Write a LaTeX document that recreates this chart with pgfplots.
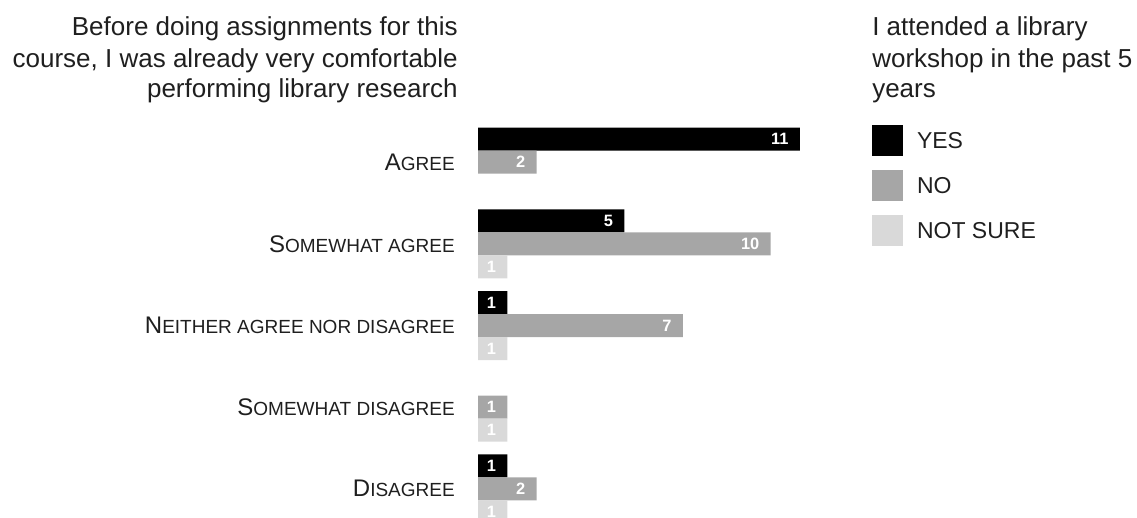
\documentclass[border=0pt]{standalone}
\usepackage{pgfplots}
\pgfplotsset{compat=1.18}
\usepackage{fontspec}
\setmainfont{Liberation Sans}
\definecolor{txt}{HTML}{1F1F1F}
\definecolor{cyes}{HTML}{000000}
\definecolor{cno}{HTML}{A6A6A6}
\definecolor{cns}{HTML}{D9D9D9}
\newcommand\fsc[2]{{\fontsize{18}{20}\selectfont #1}{\fontsize{14.25}{16}\selectfont #2}}
\newcommand\titlefont{\fontsize{19.5}{23.6}\selectfont}
\begin{document}
\begin{tikzpicture}
\path[use as bounding box] (0,0) rectangle (852.75pt,-387.75pt);
\clip (0,0) rectangle (852.75pt,-387.75pt);
% left title
\node[anchor=base east, inner sep=0pt, font=\titlefont, text=txt] at (343.5pt,-26.6pt) {Before doing assignments for this};
\node[anchor=base east, inner sep=0pt, font=\titlefont, text=txt] at (343.5pt,-50.6pt) {course, I was already very comfortable};
\node[anchor=base east, inner sep=0pt, font=\titlefont, text=txt] at (343.5pt,-73.5pt) {performing library research};
% legend title
\node[anchor=base west, inner sep=0pt, font=\titlefont, text=txt] at (654pt,-26.6pt) {I attended a library};
\node[anchor=base west, inner sep=0pt, font=\titlefont, text=txt] at (654pt,-50.6pt) {workshop in the past 5};
\node[anchor=base west, inner sep=0pt, font=\titlefont, text=txt] at (654pt,-73.5pt) {years};
\begin{axis}[
  at={(358.5pt,0pt)}, anchor=origin,
  x=21.94pt, y=0.75pt, y dir=reverse,
  xmin=0, xmax=12, ymin=0, ymax=517,
  axis x line=none, axis y line=left,
  y axis line style={draw=none}, ytick style={draw=none},
  major tick length=0pt,
  ytick={162.2,243.85,325.5,407.15,488.8},
  yticklabels={\fsc{A}{GREE},\fsc{S}{OMEWHAT AGREE},\fsc{N}{EITHER AGREE NOR DISAGREE},\fsc{S}{OMEWHAT DISAGREE},\fsc{D}{ISAGREE}},
  yticklabel style={anchor=east, inner sep=0pt, xshift=-17.25pt, text=txt},
  /pgf/number format/assume math mode=true,
  xbar, bar width=17.25pt, bar shift=0pt,
  nodes near coords,
  every node near coord/.append style={anchor=east, xshift=-8.25pt, inner sep=0pt, text=white, font=\bfseries\fontsize{12.3}{12}\selectfont},
  legend style={at={(axis cs:13.47,125)}, anchor=north west, draw=none, fill=none, inner sep=0pt, outer sep=0pt,
    row sep=10.5pt, font=\fontsize{17.25}{18}\selectfont, text=txt,
    nodes={inner sep=0pt, anchor=base west},
    /tikz/every odd column/.append style={column sep=10.5pt}},
  legend cell align=left,
  legend image code/.code={\fill[#1,draw=none] (0pt,-5.4pt) rectangle (23.25pt,17.85pt);},
]
\addplot[fill=cyes, draw=none] coordinates {(11,139.2) (5,220.85) (1,302.5) (1,465.8)};
\addplot[fill=cno, draw=none] coordinates {(2,162.2) (10,243.85) (7,325.5) (1,407.15) (2,488.8)};
\addplot[fill=cns, draw=none] coordinates {(1,266.85) (1,348.5) (1,430.15) (1,511.8)};
\legend{YES,NO,NOT SURE}
\end{axis}
\end{tikzpicture}
\end{document}
